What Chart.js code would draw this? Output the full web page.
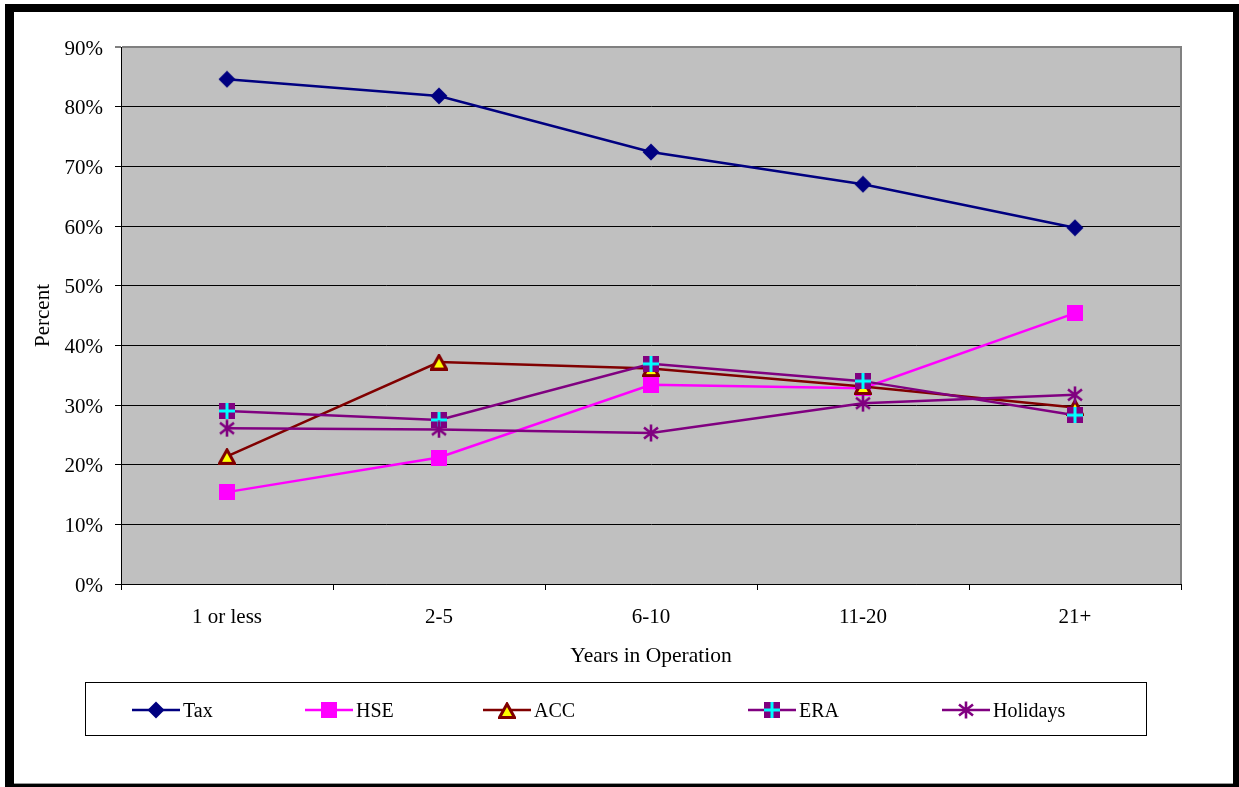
<!DOCTYPE html>
<html><head><meta charset="utf-8">
<script src="https://cdn.jsdelivr.net/npm/chart.js@4/dist/chart.umd.min.js"></script>
<style>html,body{margin:0;padding:0;background:#fff;} canvas{display:block;}</style>
</head><body>
<canvas id="c" width="1239" height="787"></canvas>
<script>
// ---- data ----
const categories = ['1 or less', '2-5', '6-10', '11-20', '21+'];
const seriesNames = ['Tax', 'HSE', 'ACC', 'ERA', 'Holidays'];
const taxValues = [84.6, 81.8, 72.4, 67.0, 59.7];
const hseValues = [15.4, 21.2, 33.4, 32.8, 45.4];
const accValues = [21.4, 37.2, 36.1, 33.1, 29.6];
const eraValues = [29.0, 27.5, 36.9, 34.0, 28.3];
const holidaysValues = [26.1, 25.9, 25.3, 30.3, 31.7];
const yTickValues = [0, 10, 20, 30, 40, 50, 60, 70, 80, 90];
const xTitle = 'Years in Operation';
const yTitle = 'Percent';

// ---- marker images ----
function mk(w, h, draw) { const c = document.createElement('canvas'); c.width = w; c.height = h; draw(c.getContext('2d')); return c; }
const mDiamond = mk(18, 18, g => { g.fillStyle = '#000080'; g.beginPath(); g.moveTo(9, 0.5); g.lineTo(17.5, 9); g.lineTo(9, 17.5); g.lineTo(0.5, 9); g.closePath(); g.fill(); });
const mSquare = mk(16, 16, g => { g.fillStyle = '#FF00FF'; g.fillRect(0, 0, 16, 16); });
const mTri = mk(18, 17, g => { g.fillStyle = '#FFFF00'; g.strokeStyle = '#800000'; g.lineWidth = 3; g.lineJoin = 'miter'; g.beginPath(); g.moveTo(9, 2); g.lineTo(16.5, 15.5); g.lineTo(1.5, 15.5); g.closePath(); g.fill(); g.stroke(); });
const mEra = mk(16, 16, g => { g.fillStyle = '#800080'; g.fillRect(0, 0, 16, 16); g.fillStyle = '#00FFFF'; g.fillRect(6.5, 0, 3, 16); g.fillRect(0, 6.5, 16, 3); });
const mStar = mk(18, 18, g => { g.strokeStyle = '#800080'; g.lineWidth = 2.6; g.beginPath(); g.moveTo(2, 3.5); g.lineTo(16, 14.5); g.moveTo(16, 3.5); g.lineTo(2, 14.5); g.moveTo(9, 0.5); g.lineTo(9, 17.5); g.stroke(); });

const FAMILY = "'Liberation Serif', 'Times New Roman', serif";
const TICK_FONT = { family: FAMILY, size: 21 };
const TITLE_FONT = { family: FAMILY, size: 21.5 };
const LEGEND_SIZE = 20;

function ds(label, data, color, marker, order) {
  return { label, data, borderColor: color, backgroundColor: color, borderWidth: 2.5, pointStyle: marker, pointRadius: 9, pointHoverRadius: 9, tension: 0, order };
}

const datasets = [
  ds(seriesNames[0], taxValues, '#000080', mDiamond, 5),
  ds(seriesNames[1], hseValues, '#FF00FF', mSquare, 4),
  ds(seriesNames[2], accValues, '#800000', mTri, 3),
  ds(seriesNames[3], eraValues, '#800080', mEra, 2),
  ds(seriesNames[4], holidaysValues, '#800080', mStar, 1)
];

const framePlugin = {
  id: 'frame',
  beforeDraw(chart) {
    const g = chart.ctx, a = chart.chartArea;
    g.save();
    g.fillStyle = '#fff'; g.fillRect(0, 0, chart.width, chart.height);
    g.fillStyle = '#000'; g.fillRect(5, 4, 1234, 783);
    g.fillStyle = '#fff'; g.fillRect(14, 12, 1219, 771);
    g.fillStyle = '#999'; g.fillRect(14, 783, 1219, 1);
    g.fillStyle = '#C0C0C0'; g.fillRect(a.left, a.top, a.right - a.left, a.bottom - a.top);
    g.restore();
  },
  beforeDatasetsDraw(chart) {
    const g = chart.ctx, a = chart.chartArea;
    g.save();
    g.strokeStyle = '#808080'; g.lineWidth = 2;
    g.beginPath(); g.moveTo(a.right, a.top - 1); g.lineTo(a.right, a.bottom); g.stroke();
    g.restore();
  }
};

const legendXs = [132, 305, 483, 748, 942];
const legendPlugin = {
  id: 'xlLegend',
  afterDraw(chart) {
    const g = chart.ctx;
    g.save();
    g.strokeStyle = '#000'; g.lineWidth = 1;
    g.strokeRect(85.5, 682.5, 1061, 53);
    const y = 710;
    chart.data.datasets.forEach((d, i) => {
      const x0 = legendXs[i];
      g.strokeStyle = d.borderColor; g.lineWidth = 2.5;
      g.beginPath(); g.moveTo(x0, y); g.lineTo(x0 + 48, y); g.stroke();
      const m = d.pointStyle;
      g.drawImage(m, Math.round(x0 + 24 - m.width / 2), Math.round(y - m.height / 2));
      g.fillStyle = '#000'; g.font = LEGEND_SIZE + 'px ' + FAMILY;
      g.textBaseline = 'middle'; g.textAlign = 'left';
      g.fillText(d.label, x0 + 51, y + 2);
    });
    g.restore();
  }
};

new Chart(document.getElementById('c'), {
  type: 'line',
  data: { labels: categories, datasets },
  options: {
    responsive: false, animation: false, devicePixelRatio: 1,
    layout: { padding: { left: 20, top: 47, right: 58, bottom: 113 } },
    plugins: { legend: { display: false }, tooltip: { enabled: false } },
    scales: {
      x: {
        offset: true,
        grid: { offset: true, drawOnChartArea: false, drawTicks: true, tickLength: 6, color: '#000', lineWidth: 1 },
        border: { display: true, color: '#000', width: 1 },
        ticks: { color: '#000', font: TICK_FONT, padding: 15, maxRotation: 0, autoSkip: false },
        title: { display: true, text: xTitle, color: '#000', font: TITLE_FONT, padding: { top: 0, bottom: 5 } },
        afterFit(s) { s.height = 90; }
      },
      y: {
        min: 0, max: 90,
        afterBuildTicks(s) { s.ticks = yTickValues.map(v => ({ value: v })); },
        ticks: { color: '#000', font: TICK_FONT, padding: 12, labelOffset: 2, callback: v => v + '%' },
        grid: {
          color: c => (c.tick && c.tick.value === 90) ? '#808080' : '#000',
          lineWidth: c => (c.tick && c.tick.value === 90) ? 2 : 1,
          tickLength: 6, tickColor: '#000', tickWidth: 1
        },
        border: { display: true, color: '#000', width: 1 },
        title: { display: true, text: yTitle, color: '#000', font: TICK_FONT, padding: { top: 11, bottom: 0 } },
        afterFit(s) { s.width = 101; }
      }
    }
  },
  plugins: [framePlugin, legendPlugin]
});
</script>
</body></html>
